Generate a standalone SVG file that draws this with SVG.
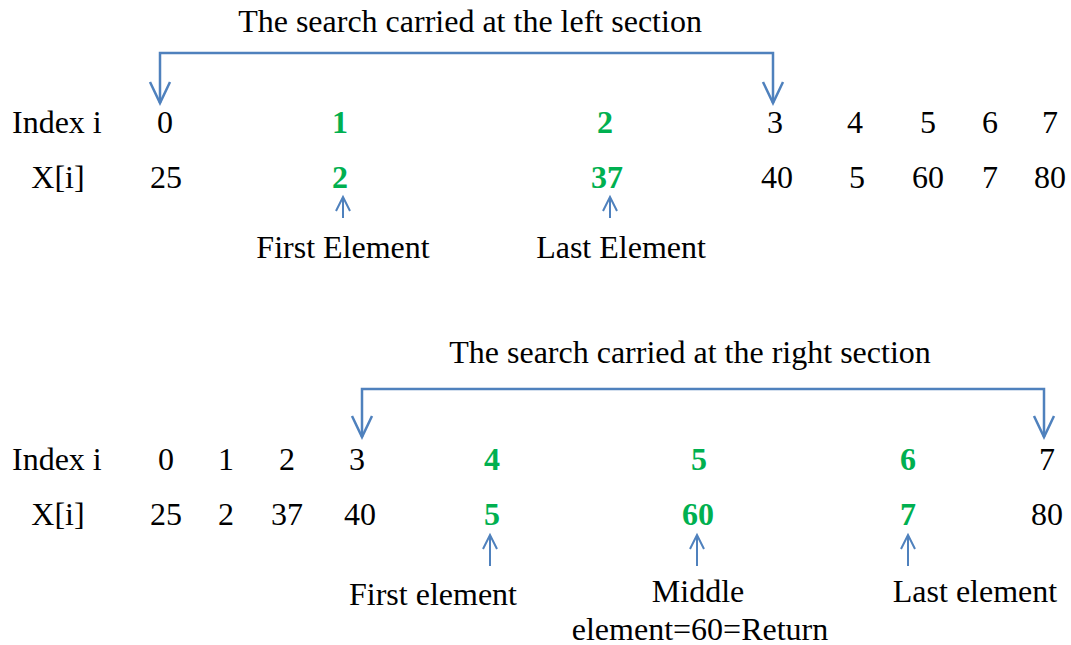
<svg xmlns="http://www.w3.org/2000/svg" width="1071" height="645" viewBox="0 0 1071 645">
<defs>
<style>
text{font-family:"Liberation Serif","Times New Roman",serif;font-size:32px;fill:#000;}
.c{text-anchor:middle;}
.g{fill:#00b050;font-weight:bold;}
.ln{fill:none;stroke:#4f81bd;stroke-width:2.5;}
.th{stroke-width:2;}
</style>
<path id="dn" class="ln" d="M-10 -21 L0 0 L10 -21"/>
<path id="up" class="ln th" d="M-7 14 L0 0 L7 14"/>
</defs>
<rect width="1071" height="645" fill="#fff"/>
<g id="connectors">
<path class="ln" d="M160 103 V53 H773 V103"/>
<use href="#dn" x="160" y="103"/>
<use href="#dn" x="773" y="103"/>
<path class="ln" d="M362 437 V389 H1044 V437"/>
<use href="#dn" x="362" y="437"/>
<use href="#dn" x="1044" y="437"/>
<line class="ln th" x1="343" y1="218" x2="343" y2="197"/>
<use href="#up" x="343" y="197"/>
<line class="ln th" x1="610" y1="218" x2="610" y2="197"/>
<use href="#up" x="610" y="197"/>
<line class="ln th" x1="490" y1="566" x2="490" y2="535"/>
<use href="#up" x="490" y="535"/>
<line class="ln th" x1="697" y1="566" x2="697" y2="535"/>
<use href="#up" x="697" y="535"/>
<line class="ln th" x1="908" y1="566" x2="908" y2="535"/>
<use href="#up" x="908" y="535"/>
</g>
<g id="top">
<text class="c" x="470" y="32">The search carried at the left section</text>
<text x="12" y="133">Index i</text>
<text class="c" x="165" y="133">0</text>
<text class="c g" x="340" y="133">1</text>
<text class="c g" x="605" y="133">2</text>
<text class="c" x="775" y="133">3</text>
<text class="c" x="855" y="133">4</text>
<text class="c" x="928" y="133">5</text>
<text class="c" x="990" y="133">6</text>
<text class="c" x="1050" y="133">7</text>
<text class="c" x="58" y="188">X[i]</text>
<text class="c" x="166" y="188">25</text>
<text class="c g" x="340" y="188">2</text>
<text class="c g" x="607" y="188">37</text>
<text class="c" x="777" y="188">40</text>
<text class="c" x="857" y="188">5</text>
<text class="c" x="928" y="188">60</text>
<text class="c" x="990" y="188">7</text>
<text class="c" x="1050" y="188">80</text>
<text class="c" x="343" y="258">First Element</text>
<text class="c" x="621" y="258">Last Element</text>
</g>
<g id="bottom">
<text class="c" x="690" y="363">The search carried at the right section</text>
<text x="12" y="470">Index i</text>
<text class="c" x="166" y="470">0</text>
<text class="c" x="226" y="470">1</text>
<text class="c" x="287" y="470">2</text>
<text class="c" x="357" y="470">3</text>
<text class="c g" x="492" y="470">4</text>
<text class="c g" x="699" y="470">5</text>
<text class="c g" x="908" y="470">6</text>
<text class="c" x="1047" y="470">7</text>
<text class="c" x="58" y="525">X[i]</text>
<text class="c" x="166" y="525">25</text>
<text class="c" x="226" y="525">2</text>
<text class="c" x="287" y="525">37</text>
<text class="c" x="360" y="525">40</text>
<text class="c g" x="492" y="525">5</text>
<text class="c g" x="698" y="525">60</text>
<text class="c g" x="908" y="525">7</text>
<text class="c" x="1047" y="525">80</text>
<text class="c" x="433" y="605">First element</text>
<text class="c" x="698" y="602">Middle</text>
<text class="c" x="700" y="640">element=60=Return</text>
<text class="c" x="975" y="602">Last element</text>
</g>
</svg>
